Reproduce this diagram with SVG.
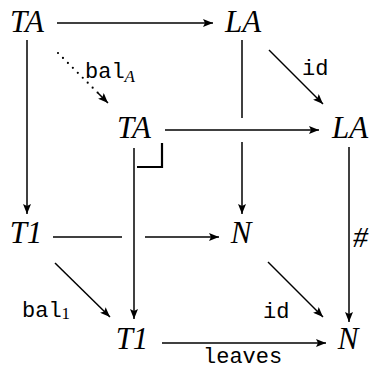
<svg xmlns="http://www.w3.org/2000/svg" width="373" height="369" viewBox="0 0 373 369">
<defs>
<marker id="ah" viewBox="0 0 10 8" refX="10" refY="4" markerWidth="10" markerHeight="8" markerUnits="userSpaceOnUse" orient="auto">
<path d="M0,0 L10,4 L0,8 L2,4 Z" fill="#000"/>
</marker>
</defs>
<style>
.n{font-family:"Liberation Serif",serif;font-style:italic;font-size:31px;fill:#000;text-anchor:middle}
.m{font-family:"Liberation Mono",monospace;font-size:22px;fill:#000}
.s{font-family:"Liberation Serif",serif;font-size:17px;fill:#000}
.e{fill:none;stroke:#000;stroke-width:1.5}
.a{marker-end:url(#ah)}
.d{fill:none;stroke:#000;stroke-width:2.2;stroke-linecap:round;stroke-dasharray:0 7}
</style>
<g id="connectors">
<path class="e a" d="M57,23 H213"/>
<path class="e a" d="M27,40 V214"/>
<path class="d" d="M58,53 L100,95"/>
<path class="e a" d="M98,93 L108,103"/>
<path class="e" d="M242,40 V118"/>
<path class="e a" d="M242,142 V214"/>
<path class="e a" d="M269,50 L323,104"/>
<path class="e a" d="M165,130 H319"/>
<path class="e a" d="M134,148 V319"/>
<path class="e" style="stroke-width:2.2" d="M137,167 H162 V143"/>
<path class="e" d="M53,237 H122"/>
<path class="e a" d="M145,237 H219"/>
<path class="e a" d="M349,147 V322"/>
<path class="e a" d="M268,262 L323,317"/>
<path class="e a" d="M55,263 L110,317"/>
<path class="e a" d="M162,343 H326"/>
</g>
<g id="node-TA-top"><text class="n" x="27" y="32">TA</text></g>
<g id="node-LA-top"><text class="n" x="243" y="32">LA</text></g>
<g id="node-TA-mid"><text class="n" x="134" y="138">TA</text></g>
<g id="node-LA-mid"><text class="n" x="350" y="138">LA</text></g>
<g id="node-T1-left"><text class="n" x="26" y="243">T1</text></g>
<g id="node-N-mid"><text class="n" x="241" y="243">N</text></g>
<g id="node-T1-bottom"><text class="n" x="132" y="349">T1</text></g>
<g id="node-N-bottom"><text class="n" x="348" y="349">N</text></g>
<g id="labels">
<text class="m" x="85" y="78">bal<tspan class="s" style="font-style:italic" dy="4">A</tspan></text>
<text class="m" x="302" y="75">id</text>
<text class="m" x="22" y="317">bal<tspan class="s" dy="2">1</tspan></text>
<text class="m" x="263" y="318">id</text>
<text class="m" x="203" y="363">leaves</text>
<text x="353" y="247" style="font-family:'Liberation Serif',serif;font-style:italic;font-size:30px">#</text>
</g>
</svg>
